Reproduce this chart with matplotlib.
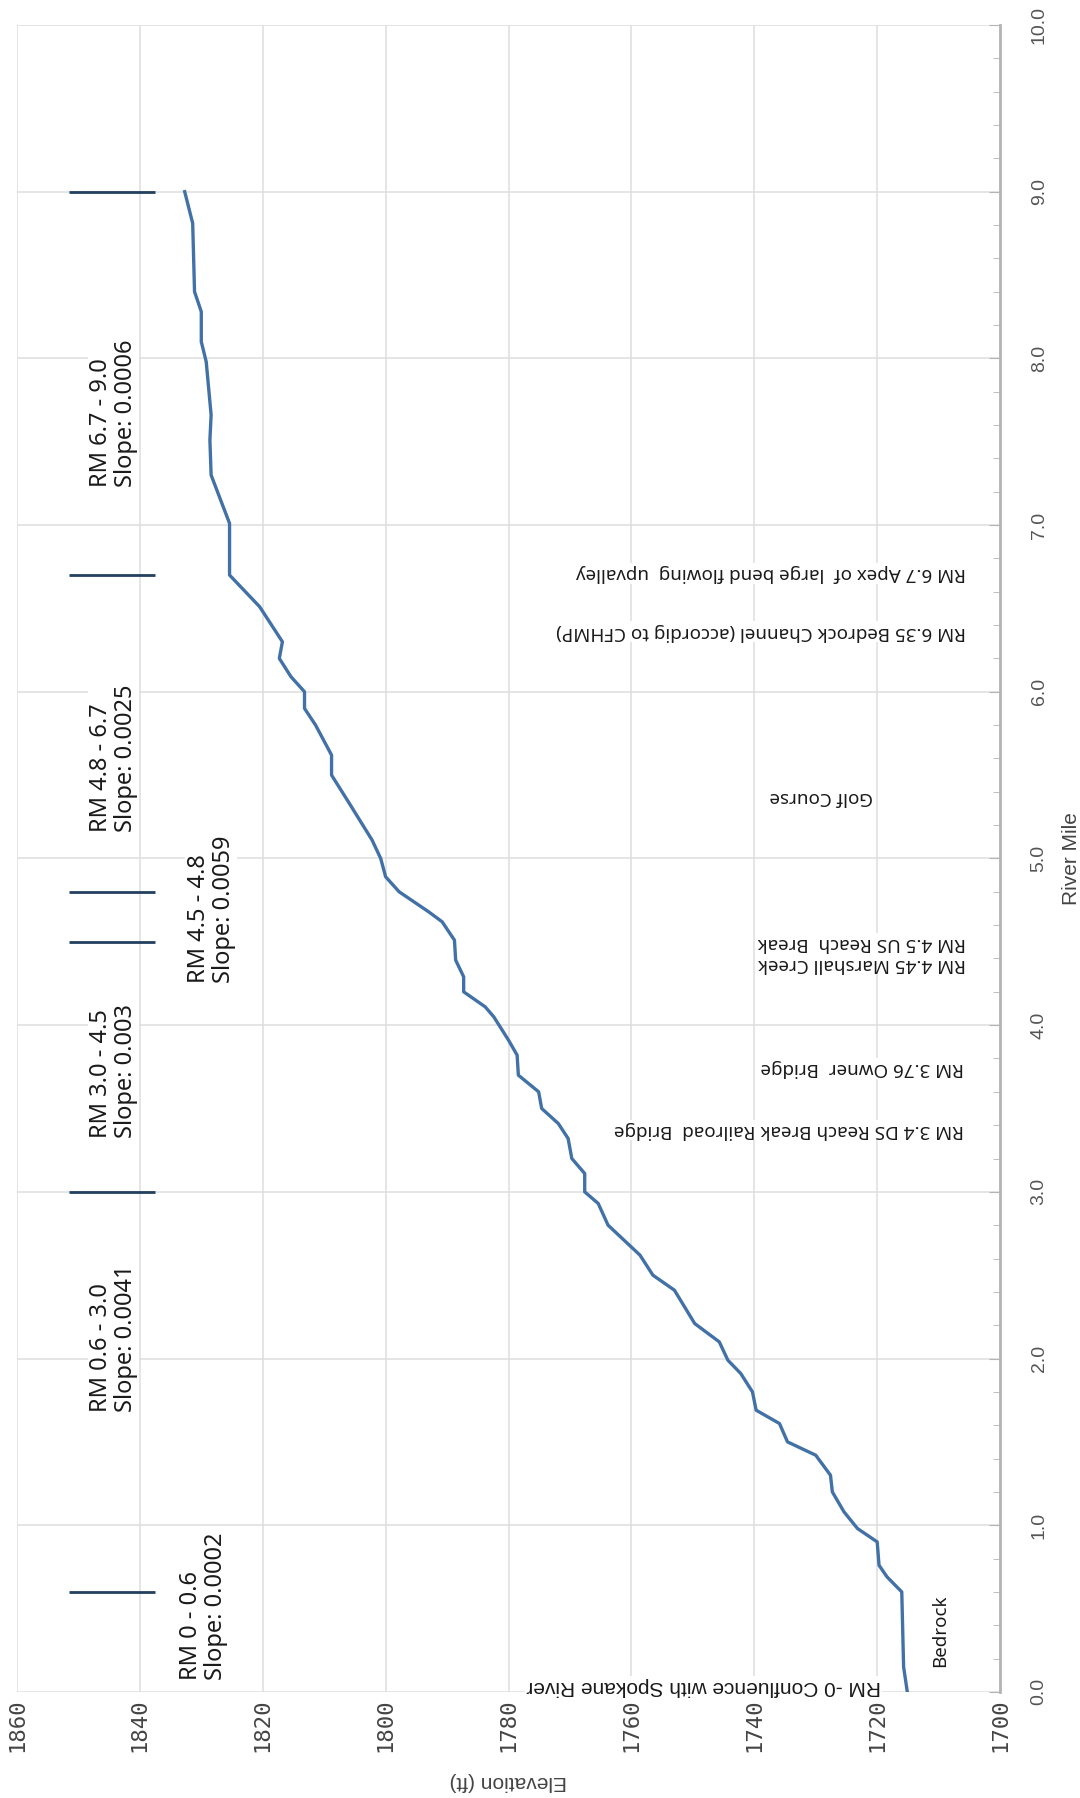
import numpy as np
import matplotlib.pyplot as plt

# river profile
river_mile = [0, 0.15, 0.6, 0.69, 0.76, 0.9, 0.98, 1.08, 1.2, 1.3, 1.42, 1.5, 1.61, 1.69,
              1.8, 1.91, 1.99, 2.1, 2.21, 2.41, 2.5, 2.62, 2.8, 2.93, 3.0, 3.11, 3.2, 3.32,
              3.41, 3.5, 3.6, 3.7, 3.82, 3.91, 4.05, 4.11, 4.2, 4.29, 4.39, 4.51, 4.62, 4.68,
              4.8, 4.89, 5.0, 5.11, 5.33, 5.5, 5.62, 5.8, 5.9, 6.0, 6.09, 6.2, 6.3, 6.51,
              6.7, 7.01, 7.3, 7.51, 7.66, 7.98, 8.1, 8.28, 8.4, 8.81, 9.0]
elevation = [1715.1, 1715.7, 1716.0, 1718.4, 1719.7, 1720.0, 1723.2, 1725.4, 1727.3, 1727.6,
             1730.0, 1734.6, 1735.9, 1739.7, 1740.3, 1742.2, 1744.3, 1745.7, 1749.7, 1753.0,
             1756.5, 1758.6, 1763.8, 1765.4, 1767.6, 1767.6, 1769.7, 1770.3, 1771.9, 1774.6,
             1775.1, 1778.4, 1778.6, 1780.0, 1782.4, 1783.8, 1787.3, 1787.3, 1788.6, 1788.8,
             1790.8, 1793.0, 1797.8, 1800.0, 1800.8, 1802.2, 1805.9, 1808.8, 1808.8, 1811.4,
             1813.2, 1813.2, 1815.4, 1817.3, 1816.8, 1820.5, 1825.4, 1825.4, 1828.4, 1828.6,
             1828.4, 1829.2, 1830.0, 1830.0, 1831.1, 1831.4, 1832.7]

# reach breaks
break_miles = [0.6, 3.0, 4.5, 4.8, 6.7, 9.0]
break_elev = (1837.5, 1851.5)

# slope labels: text, elevation (centre of block), mile (start of text)
slope_text = ["RM 0 - 0.6\nSlope: 0.0002", "RM 0.6 - 3.0\nSlope: 0.0041",
              "RM 3.0 - 4.5\nSlope: 0.003", "RM 4.5 - 4.8\nSlope: 0.0059",
              "RM 4.8 - 6.7\nSlope: 0.0025", "RM 6.7 - 9.0\nSlope: 0.0006"]
slope_elev = [1829.6, 1844.3, 1844.3, 1828.4, 1844.3, 1844.3]
slope_mile = [0.07, 1.68, 3.32, 4.25, 5.16, 7.23]

# site notes (upside down in the scan)
note_text = ["RM 3.4 DS Reach Break Railroad  Bridge", "RM 3.76 Owner  Bridge",
             "RM 4.45 Marshall Creek\nRM 4.5 US Reach  Break", "Golf Course",
             "RM 6.35 Bedrock Channel (accordig to CFHMP)",
             "RM 6.7 Apex of  large bend flowing  upvalley"]
note_elev = [1705.8, 1705.8, 1705.6, 1720.7, 1705.6, 1705.6]
note_mile = [3.37, 3.74, 4.43, 5.37, 6.36, 6.71]

elev_ticks = list(range(1700, 1861, 20))
mile_ticks = list(range(0, 11))

sans = ['Noto Sans', 'DejaVu Sans']
narrow = ['Liberation Sans Narrow', 'Liberation Sans', 'DejaVu Sans']
grid_c = '#dedede'

fig = plt.figure(figsize=(10.8, 17.98), dpi=100)
ax = fig.add_axes([0.0157, 0.059, 0.9103, 0.9271])

ax.set_xlim(1860, 1700)
ax.set_ylim(0, 10)
ax.set_xticks(elev_ticks)
ax.set_yticks(mile_ticks)
ax.set_yticks(np.arange(0, 10.01, 0.2), minor=True)
ax.grid(True, color=grid_c, lw=1.1)
ax.set_axisbelow(True)

for s in ['top', 'left', 'bottom']:
    ax.spines[s].set_visible(False)
ax.spines['right'].set_color('#b4b4b4')
ax.spines['right'].set_linewidth(2)

ax.yaxis.tick_right()
ax.yaxis.set_label_position('right')
ax.set_yticklabels([f'{v:.1f}' for v in mile_ticks], rotation=90, va='center',
                   family=narrow, fontsize=14, color='#555555')
ax.tick_params(axis='y', which='both', direction='in', color='#b4b4b4', pad=22)
ax.tick_params(axis='y', which='major', length=8)
ax.tick_params(axis='y', which='minor', length=5)
ax.set_xticklabels([str(v) for v in elev_ticks], rotation=90, family='DejaVu Sans Mono',
                   fontsize=16, color='#444444')
ax.tick_params(axis='x', length=0, pad=5)

ax.set_ylabel('River Mile', rotation=90, family=narrow, fontsize=15, color='#444444',
              labelpad=10)
ax.set_xlabel('Elevation (ft)', rotation=180, family=narrow, fontsize=15, color='#444444',
              labelpad=14)

ax.plot(elevation, river_mile, color='#4171a6', lw=2.4, zorder=3)
ax.hlines(break_miles, break_elev[0], break_elev[1], color='#22405f', lw=2, zorder=3)

box = dict(facecolor='white', edgecolor='none', pad=1)
for t, e, m in zip(slope_text, slope_elev, slope_mile):
    ax.text(e, m, t, rotation=90, rotation_mode='anchor', ha='left', va='center',
            multialignment='left', family=sans, fontsize=17, color='#1a1a1a',
            linespacing=1.05, bbox=box, zorder=4)

for t, e, m in zip(note_text, note_elev, note_mile):
    ax.text(e, m, t, rotation=180, rotation_mode='anchor', ha='left', va='center',
            multialignment='left', family=sans, fontsize=13.5, color='#1a1a1a',
            linespacing=1.2, bbox=box, zorder=4)

ax.text(1719.4, 0.03, 'RM -0 Confluence with Spokane River', rotation=180,
        rotation_mode='anchor', ha='left', va='center', family=narrow, fontsize=15,
        color='#1a1a1a', bbox=box, zorder=4)
ax.text(1709.8, 0.15, 'Bedrock', rotation=90, rotation_mode='anchor', ha='left',
        va='center', family=sans, fontsize=13.5, color='#1a1a1a', zorder=4)

fig.savefig('out.png', dpi=100)
